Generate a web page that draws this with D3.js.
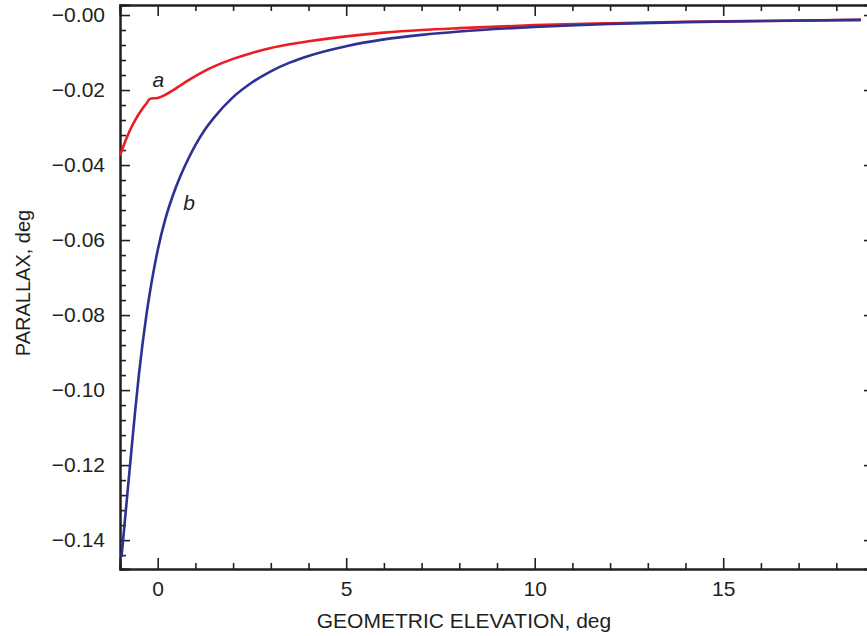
<!DOCTYPE html>
<html lang="en">
	<head>
		<meta charset="UTF-8" />
		<title>Parallax</title>
		<style>
			body { margin: 0; background: #fff; }
			text { font-family: 'Liberation Sans', Arial, sans-serif; fill: #231f20; }
		</style>
	</head>
	<body>
		<svg id="svg" width="867" height="636"></svg>

		<script src="https://d3js.org/d3.v7.min.js"></script>
		<script>
			// curve a (red)
			const aX = [-1, -0.9, -0.8, -0.7, -0.6, -0.5, -0.4, -0.3, -0.2, 0, 0.2, 0.4, 0.6, 0.8, 1, 1.25, 1.5, 2, 2.5, 3, 3.5, 4, 5, 6, 7, 8, 10, 12, 14, 16, 18.65];
			const aY = [-0.0375, -0.0347, -0.0322, -0.03, -0.0281, -0.0264, -0.0249, -0.0236, -0.0223, -0.0221, -0.0213, -0.0201, -0.0188, -0.0175, -0.0163, -0.0149, -0.0137, -0.0117, -0.0101, -0.0088, -0.0078, -0.007, -0.0057, -0.0047, -0.004, -0.0035, -0.0027, -0.0022, -0.0018, -0.0016, -0.0013];

			// curve b (blue)
			const bX = [-0.96, -0.9, -0.8, -0.7, -0.6, -0.5, -0.4, -0.3, -0.2, -0.1, 0, 0.2, 0.4, 0.6, 0.8, 1, 1.25, 1.5, 2, 2.5, 3, 3.5, 4, 5, 6, 7, 8, 10, 12, 14, 16, 18.65];
			const bY = [-0.1445, -0.138, -0.1272, -0.1164, -0.1058, -0.096, -0.0875, -0.08, -0.0735, -0.0678, -0.0627, -0.0545, -0.0482, -0.043, -0.0386, -0.0347, -0.0306, -0.0273, -0.0219, -0.018, -0.015, -0.0127, -0.0109, -0.0083, -0.0065, -0.0053, -0.0044, -0.0032, -0.0024, -0.0019, -0.0016, -0.0013];

			const xTicks = [0, 5, 10, 15];
			const xTickLabels = ['0', '5', '10', '15'];
			const yTicks = [0, -0.02, -0.04, -0.06, -0.08, -0.1, -0.12, -0.14];
			const yTickLabels = ['\u22120.00', '\u22120.02', '\u22120.04', '\u22120.06', '\u22120.08', '\u22120.10', '\u22120.12', '\u22120.14'];

			const svg = d3.select('#svg');
			const mLeft = 120, mRight = 874, mTop = 5, mBottom = 569;

			const x = d3.scaleLinear().domain([-1, 19]).range([mLeft, mRight]);
			const y = d3.scaleLinear().domain([-0.1477, 0.00267]).range([mBottom, mTop]);

			const xMinor = d3.range(-1, 20, 1).filter((v) => !xTicks.includes(v));
			const yMinor = d3.range(0, 38).map((i) => -i * 0.004).filter((v) => v > -0.1477 && Math.abs(Math.round(v / 0.02) * 0.02 - v) > 1e-6);

			function styleAxis(g) {
				g.select('.domain').attr('stroke', '#231f20').attr('stroke-width', 2);
				g.selectAll('.tick line').attr('stroke', '#231f20').attr('stroke-width', 1.6);
				g.selectAll('.tick text')
					.style('font-family', "'Liberation Sans', Arial, sans-serif")
					.style('font-size', '21px')
					.attr('fill', '#231f20');
			}

			// left
			svg.append('g').attr('transform', `translate(${mLeft},0)`)
				.call(d3.axisLeft(y).tickValues(yTicks).tickSize(-10).tickPadding(15).tickFormat((d, i) => yTickLabels[i]))
				.call(styleAxis);
			svg.append('g').attr('transform', `translate(${mLeft},0)`)
				.call(d3.axisLeft(y).tickValues(yMinor).tickSize(-6).tickFormat(''))
				.call(styleAxis);
			// right
			svg.append('g').attr('transform', `translate(${mRight},0)`)
				.call(d3.axisRight(y).tickValues(yTicks).tickSize(-10).tickFormat(''))
				.call(styleAxis);
			svg.append('g').attr('transform', `translate(${mRight},0)`)
				.call(d3.axisRight(y).tickValues(yMinor).tickSize(-6).tickFormat(''))
				.call(styleAxis);
			// bottom
			svg.append('g').attr('transform', `translate(0,${mBottom})`)
				.call(d3.axisBottom(x).tickValues(xTicks).tickSize(-11).tickPadding(12).tickFormat((d, i) => xTickLabels[i]))
				.call(styleAxis);
			svg.append('g').attr('transform', `translate(0,${mBottom})`)
				.call(d3.axisBottom(x).tickValues(xMinor).tickSize(-6).tickFormat(''))
				.call(styleAxis);
			// top
			svg.append('g').attr('transform', `translate(0,${mTop})`)
				.call(d3.axisTop(x).tickValues(xTicks).tickSize(-11).tickFormat(''))
				.call(styleAxis);
			svg.append('g').attr('transform', `translate(0,${mTop})`)
				.call(d3.axisTop(x).tickValues(xMinor).tickSize(-6).tickFormat(''))
				.call(styleAxis);

			svg.append('clipPath').attr('id', 'plot')
				.append('rect').attr('x', mLeft).attr('y', mTop).attr('width', mRight - mLeft).attr('height', mBottom - mTop);

			const line = d3.line()
				.x((d) => x(d[0]))
				.y((d) => y(d[1]))
				.curve(d3.curveMonotoneX);

			svg.append('path')
				.attr('d', line(d3.zip(aX, aY)))
				.attr('clip-path', 'url(#plot)')
				.attr('fill', 'none')
				.attr('stroke', '#ed1c24')
				.attr('stroke-width', 2.6);
			svg.append('path')
				.attr('d', line(d3.zip(bX, bY)))
				.attr('clip-path', 'url(#plot)')
				.attr('fill', 'none')
				.attr('stroke', '#2e3192')
				.attr('stroke-width', 2.6);

			// curve labels
			svg.append('text').text('a')
				.attr('x', x(-0.14)).attr('y', y(-0.0192))
				.style('font-size', '21px').style('font-style', 'italic');
			svg.append('text').text('b')
				.attr('x', x(0.68)).attr('y', y(-0.052))
				.style('font-size', '21px').style('font-style', 'italic');

			// axis titles
			svg.append('text').text('GEOMETRIC ELEVATION, deg')
				.attr('x', 464).attr('y', 628)
				.attr('text-anchor', 'middle')
				.style('font-size', '21px');
			svg.append('text').text('PARALLAX, deg')
				.attr('transform', 'translate(30,283) rotate(-90)')
				.attr('text-anchor', 'middle')
				.style('font-size', '20px');
		</script>
	</body>
</html>
